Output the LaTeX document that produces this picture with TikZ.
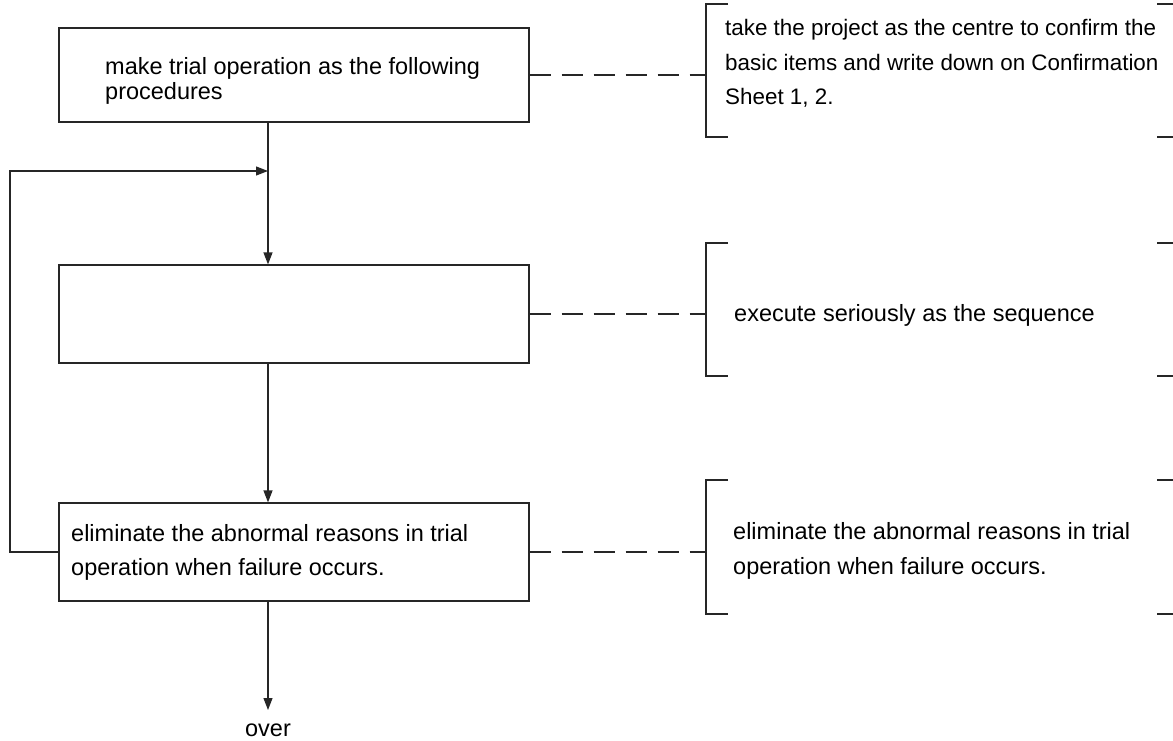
\documentclass[tikz,border=0pt]{standalone}
\usepackage{fontspec}
\setmainfont{Liberation Sans}
\usetikzlibrary{arrows.meta}
\begin{document}
\begin{tikzpicture}[x=1pt,y=-1pt,
  line/.style={draw=black!85, line width=1.2pt},
  box/.style={line, rectangle, inner sep=0pt, minimum width=470pt},
  flow/.style={line, -{Triangle[length=12pt,width=9pt]}},
  link/.style={line, dash pattern=on 21.5pt off 10.5pt},
  txt/.style={align=left, inner sep=0pt, anchor=west},
]
\useasboundingbox (0,0) rectangle (1173,741);

% process boxes
\node[box, minimum height=94pt] (b1) at (294,75) {};
\node[box, minimum height=98pt] (b2) at (294,314) {};
\node[box, minimum height=98pt] (b3) at (294,552) {};

% box texts
\node[txt, font=\fontsize{23.5}{25}\selectfont] (t1) at (105,81)
  {make trial operation as the following\\procedures};
\node[txt, font=\fontsize{23.5}{34}\selectfont] (t3) at (71,552)
  {eliminate the abnormal reasons in trial\\operation when failure occurs.};

% main flow
\coordinate (j) at (268,171);
\coordinate (fb) at (10,171);
\coordinate (end) at (268,710);
\draw[line] (j |- b1.south) -- (j);
\draw[flow] (j) -- (j |- b2.north);
\draw[flow] (j |- b2.south) -- (j |- b3.north);
\draw[flow] (j |- b3.south) -- (end);
\node[font=\fontsize{23.5}{28}\selectfont, inner sep=0pt] (over) at (268,730) {over};

% feedback loop
\draw[flow] (b3.west) -| (fb) -- (j);

% brackets on the right
\coordinate (k1) at (706,75);
\coordinate (k2) at (706,314);
\coordinate (k3) at (706,552);
\draw[line] (728,4) -- (706,4) -- (706,137) -- (728,137);
\draw[line] (728,243) -- (706,243) -- (706,376) -- (728,376);
\draw[line] (728,480) -- (706,480) -- (706,614) -- (728,614);
\foreach \y in {4,137,243,376,480,614}
  \draw[line] (1157,\y) -- (1173,\y);

% dashed links
\draw[link] (b1.east) -- (k1);
\draw[link] (b2.east) -- (k2);
\draw[link] (b3.east) -- (k3);

% bracket texts
\node[txt, font=\fontsize{22.4}{34.5}\selectfont] (n1) at (725,63.5)
  {take the project as the centre to confirm the\\basic items and write down on Confirmation\\Sheet 1, 2.};
\node[txt, font=\fontsize{23.5}{34.5}\selectfont] (n2) at (734,315)
  {execute seriously as the sequence};
\node[txt, font=\fontsize{23.5}{35}\selectfont] (n3) at (733,550.5)
  {eliminate the abnormal reasons in trial\\operation when failure occurs.};
\end{tikzpicture}
\end{document}
